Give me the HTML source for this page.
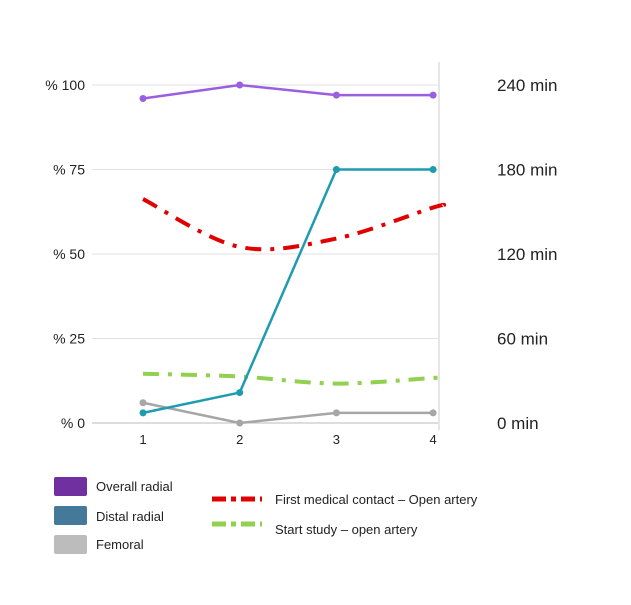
<!DOCTYPE html>
<html><head><meta charset="utf-8"><style>
body{margin:0;background:#fff;font-family:"Liberation Sans",sans-serif;}
svg text{font-family:"Liberation Sans",sans-serif;}
</style></head><body>
<svg id="c" width="631" height="600" viewBox="0 0 631 600"></svg>
<script>
const categories=["1","2","3","4"];
const overallRadial=[96,100,97,97];
const distalRadial=[3,9,75,75];
const femoral=[6,0,3,3];
const fmcOpenArtery=[159,125,131,153];
const startStudyOpenArtery=[35,33,28,32];
const leftTicks=[0,25,50,75,100];
const rightTicks=[0,60,120,180,240];
const NS="http://www.w3.org/2000/svg";
const svg=document.getElementById('c');
const X=i=>143+i*96.7;
const Y=p=>423-p*3.38;
const YM=m=>423-m/240*338;
function el(t,a,p){const e=document.createElementNS(NS,t);for(const k in a)e.setAttribute(k,a[k]);(p||svg).appendChild(e);return e;}
leftTicks.forEach(t=>{
 const g=el('line',{x1:92,x2:438,y1:Y(t),y2:Y(t),stroke:t===0?'#bbb':'#e2e2e2','stroke-width':1});
 
 
 const tx=el('text',{x:85,y:Y(t)+5,'text-anchor':'end','font-size':14,fill:'#222'});
 tx.textContent='% '+t;
 
 
});
const ax=el('line',{x1:439,x2:439,y1:62,y2:430,stroke:'#ccc'});


rightTicks.forEach(t=>{
 const tx=el('text',{x:497,y:YM(t)+6,'font-size':17,fill:'#222'});
 tx.textContent=t+' min';
 
 
});
categories.forEach((c,i)=>{
 const tx=el('text',{x:X(i),y:444,'text-anchor':'middle','font-size':13,fill:'#222'});
 tx.textContent=c;
 
 
});
function smooth(pts){let d='M'+pts[0][0]+','+pts[0][1];
 for(let i=0;i<pts.length-1;i++){const p0=pts[i-1]||pts[i],p1=pts[i],p2=pts[i+1],p3=pts[i+2]||p2;
 d+=` C${p1[0]+(p2[0]-p0[0])/6},${p1[1]+(p2[1]-p0[1])/6} ${p2[0]-(p3[0]-p1[0])/6},${p2[1]-(p3[1]-p1[1])/6} ${p2[0]},${p2[1]}`;}return d;}
function dashed(vals,color,name){
 const pts=vals.map((v,i)=>[X(i),YM(v)]);
 const last=pts[pts.length-1],prev=pts[pts.length-2];
 pts.push([last[0]+10,last[1]+(last[1]-prev[1])*4/96.7]);
 const p=el('path',{d:smooth(pts),fill:'none',stroke:color,'stroke-width':4,'stroke-dasharray':'16 9 4 9'});
 
 
}
dashed(startStudyOpenArtery,'#92d050','start-study-line');
dashed(fmcOpenArtery,'#e00000','first-medical-contact-line');
function series(vals,color,name){
 const p=el('polyline',{points:vals.map((v,i)=>X(i)+','+Y(v)).join(' '),fill:'none',stroke:color,'stroke-width':2.5});
 
 
 vals.forEach((v,i)=>{const c=el('circle',{cx:X(i),cy:Y(v),r:3.5,fill:color});
 
 });
}
series(femoral,'#a6a6a6','femoral');
series(distalRadial,'#1f9bb0','distal-radial');
series(overallRadial,'#9a5fe0','overall-radial');
</script>
<div>
<div style="position:absolute;left:54px;top:477px;width:33px;height:19px;background:#7030a0;border-radius:2px"></div>
<div style="position:absolute;left:96px;top:479px;font-size:13px;color:#222">Overall radial</div>
<div style="position:absolute;left:54px;top:506px;width:33px;height:19px;background:#44799a;border-radius:2px"></div>
<div style="position:absolute;left:96px;top:509px;font-size:13px;color:#222">Distal radial</div>
<div style="position:absolute;left:54px;top:535px;width:33px;height:19px;background:#bcbcbc;border-radius:2px"></div>
<div style="position:absolute;left:96px;top:537px;font-size:13px;color:#222">Femoral</div>
<svg style="position:absolute;left:212px;top:492px" width="50" height="40">
<line x1="0" y1="7" x2="50" y2="7" stroke="#e00000" stroke-width="5" stroke-dasharray="14 5 5 5"/>
<line x1="0" y1="32" x2="50" y2="32" stroke="#92d050" stroke-width="5" stroke-dasharray="14 5 5 5"/>
</svg>
<div style="position:absolute;left:275px;top:492px;font-size:13px;color:#222">First medical contact – Open artery</div>
<div style="position:absolute;left:275px;top:522px;font-size:13px;color:#222">Start study – open artery</div>
</div>
</body></html>
